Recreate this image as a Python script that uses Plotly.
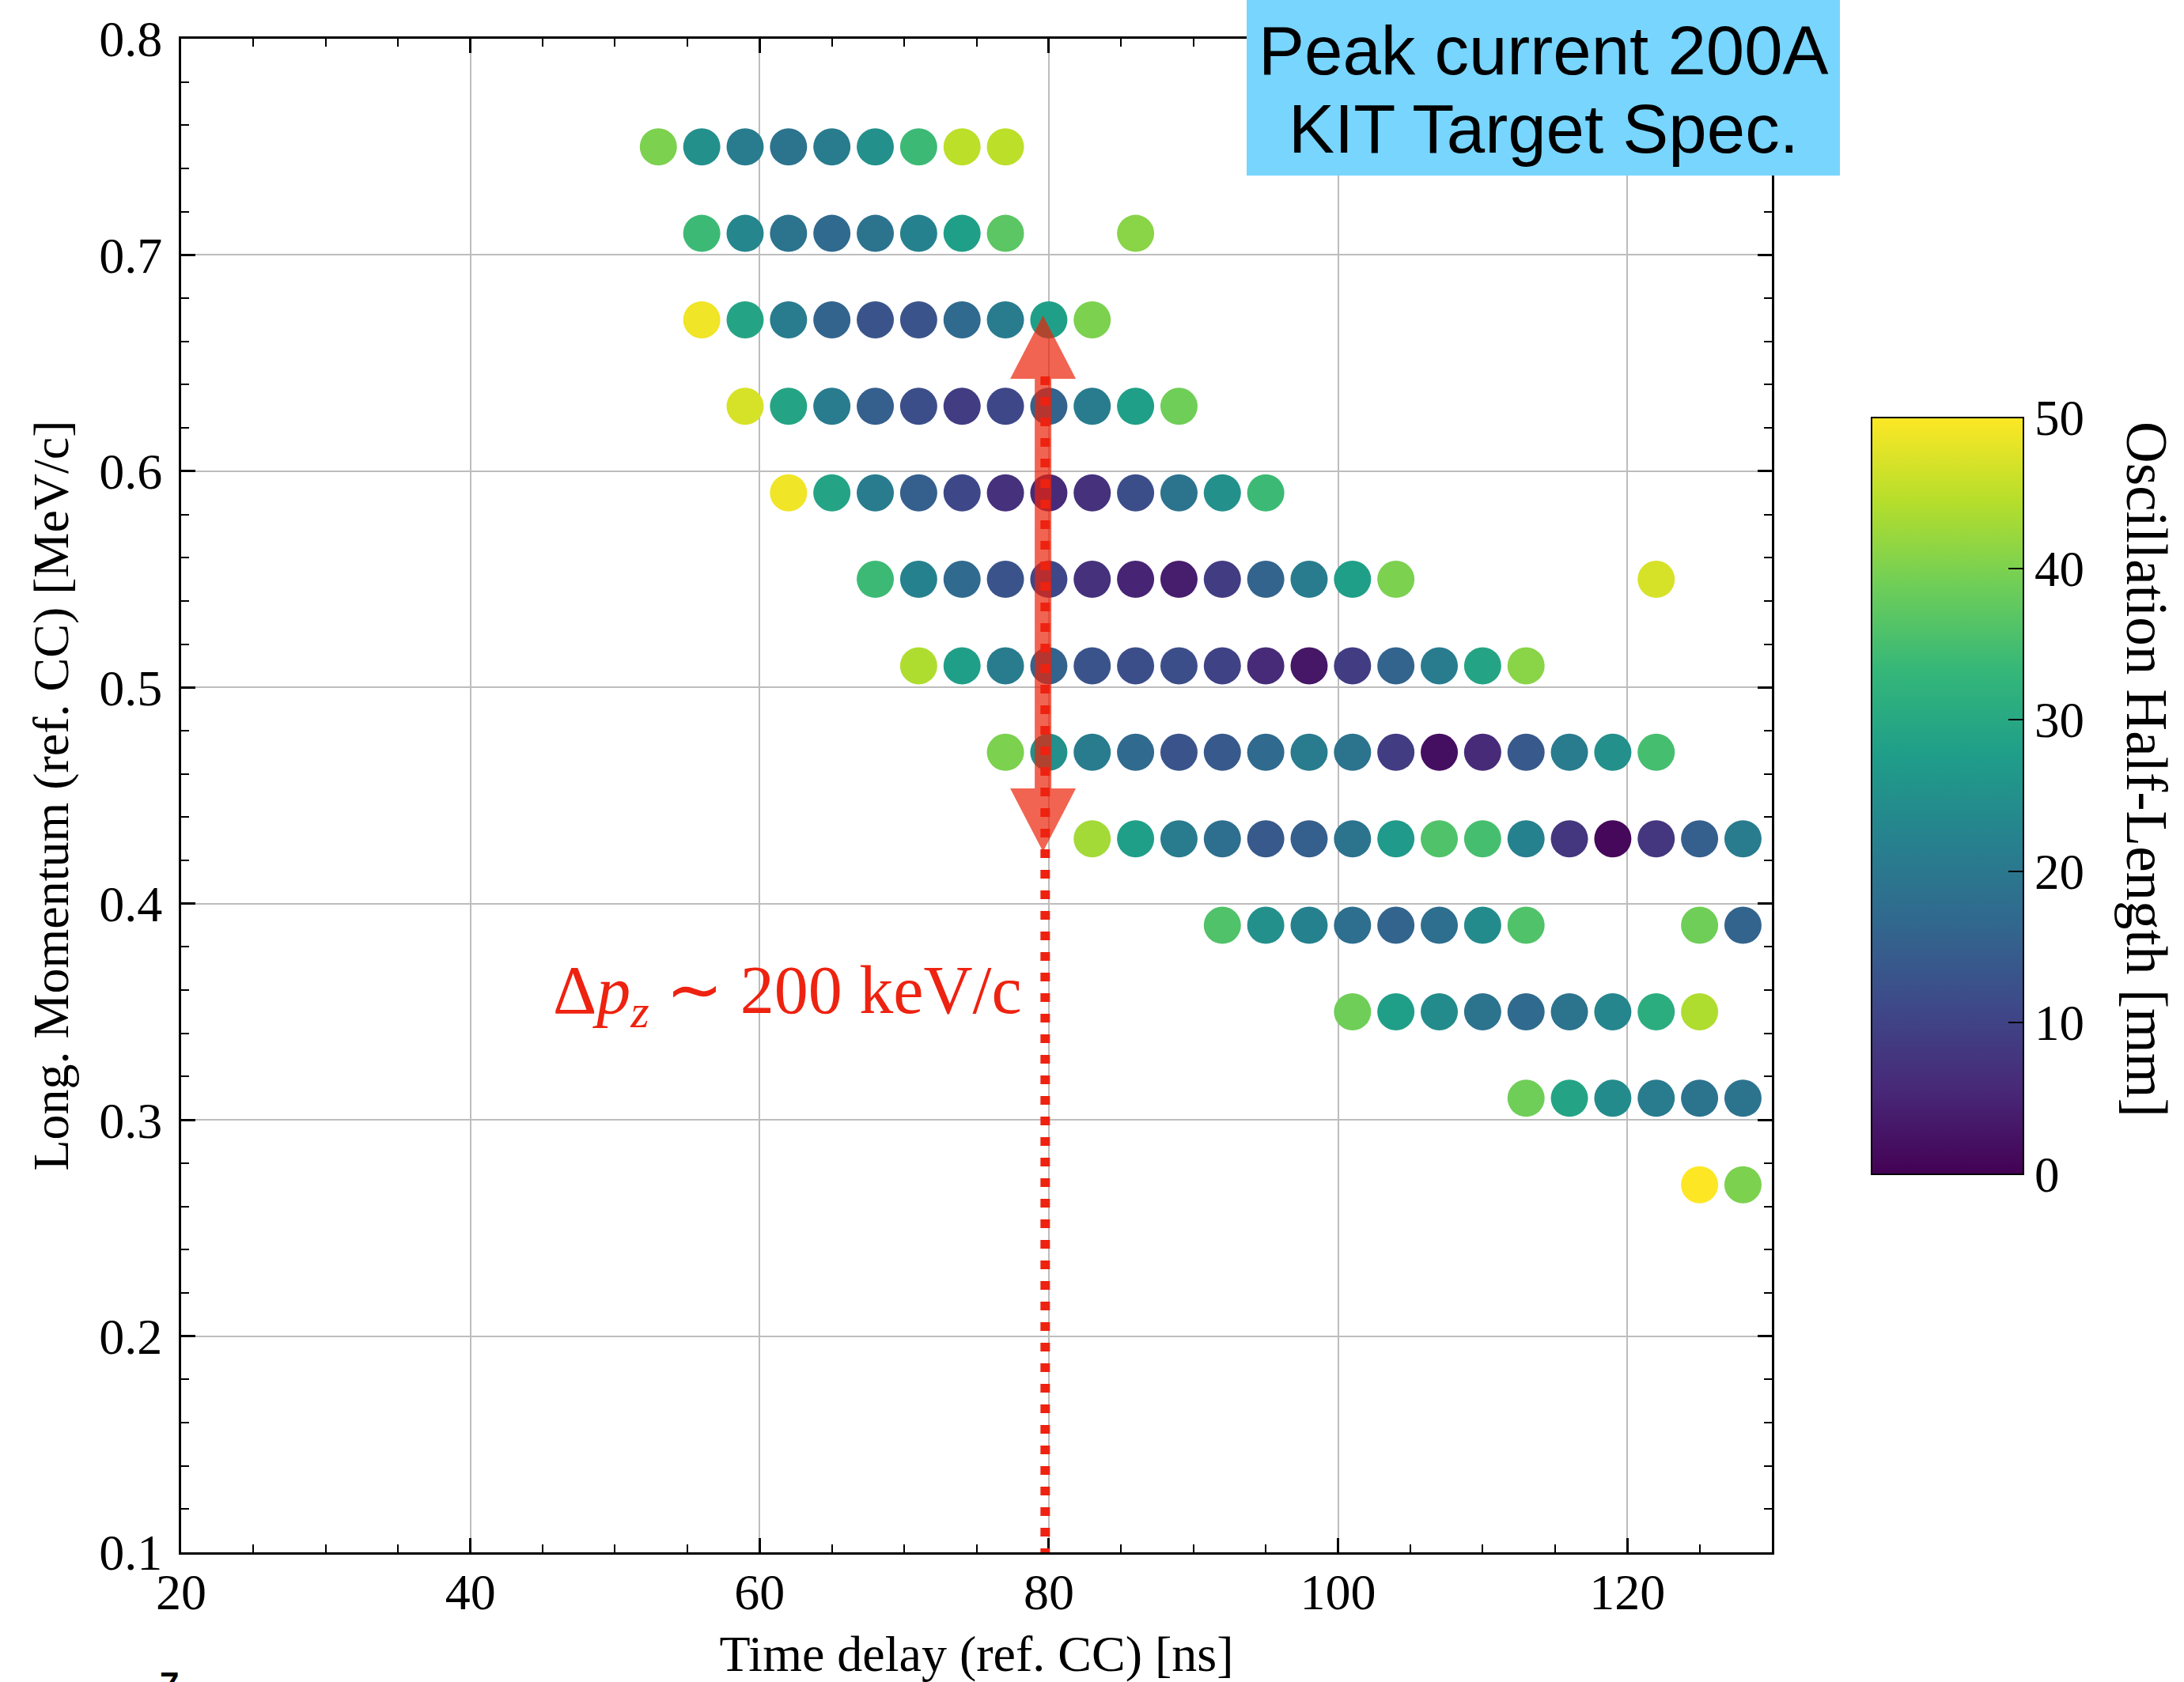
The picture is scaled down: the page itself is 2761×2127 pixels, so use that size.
import plotly.graph_objects as go

# ---------------- data ----------------
momentum_rows = [0.75, 0.71, 0.67, 0.63, 0.59, 0.55, 0.51, 0.47, 0.43, 0.39, 0.35, 0.31, 0.27]

delay_rows = [
    [53, 56, 59, 62, 65, 68, 71, 74, 77],
    [56, 59, 62, 65, 68, 71, 74, 77, 86],
    [56, 59, 62, 65, 68, 71, 74, 77, 80, 83],
    [59, 62, 65, 68, 71, 74, 77, 80, 83, 86, 89],
    [62, 65, 68, 71, 74, 77, 80, 83, 86, 89, 92, 95],
    [68, 71, 74, 77, 80, 83, 86, 89, 92, 95, 98, 101, 104, 122],
    [71, 74, 77, 80, 83, 86, 89, 92, 95, 98, 101, 104, 107, 110, 113],
    [77, 80, 83, 86, 89, 92, 95, 98, 101, 104, 107, 110, 113, 116, 119, 122],
    [83, 86, 89, 92, 95, 98, 101, 104, 107, 110, 113, 116, 119, 122, 125, 128],
    [92, 95, 98, 101, 104, 107, 110, 113, 125, 128],
    [101, 104, 107, 110, 113, 116, 119, 122, 125],
    [113, 116, 119, 122, 125, 128],
    [125, 128],
]

half_length_rows = [
    [40, 25, 21, 19, 21, 25, 34, 45, 45],
    [34, 23, 19, 17, 19, 22, 28, 37, 41],
    [49, 29, 21, 16, 13, 13, 17, 21, 28, 40],
    [47, 29, 21, 15, 12, 9, 11, 16, 21, 28, 39],
    [49, 29, 21, 15, 11, 7, 6, 7, 12, 19, 25, 34],
    [34, 22, 17, 13, 11, 7, 5, 4, 9, 16, 21, 28, 40, 47],
    [44, 28, 21, 16, 13, 12, 12, 10, 6, 3, 9, 16, 21, 29, 41],
    [40, 25, 21, 17, 13, 14, 17, 21, 19, 9, 2, 6, 14, 21, 25, 35],
    [43, 28, 21, 18, 14, 15, 19, 27, 36, 35, 22, 8, 1, 8, 15, 21],
    [36, 25, 22, 18, 16, 18, 24, 36, 39, 16],
    [39, 28, 24, 19, 17, 19, 23, 31, 44],
    [39, 29, 24, 21, 19, 19],
    [50, 40],
]

x_ticks = [20, 40, 60, 80, 100, 120]
y_ticks = [0.1, 0.2, 0.3, 0.4, 0.5, 0.6, 0.7, 0.8]
cbar_ticks = [0, 10, 20, 30, 40, 50]

# annotation geometry (data units)
arrow_x = 79.6
arrow_y_low = 0.424
arrow_y_high = 0.672
dotted_x = 79.75
dotted_y_top = 0.648

# ---------------- flatten ----------------
xs, ys, cs = [], [], []
for yv, xr, vr in zip(momentum_rows, delay_rows, half_length_rows):
    for xv, v in zip(xr, vr):
        xs.append(xv)
        ys.append(yv)
        cs.append(v)

SERIF = "Liberation Serif, Times New Roman, serif"
SANS = "Liberation Sans, Arial, sans-serif"

W, H = 2761, 2127
ML, MR, MT, MB = 229, 521, 49, 164
PW = W - ML - MR
PH = H - MT - MB
XR = [20, 130]
YR = [0.1, 0.8]
pxx = PW / (XR[1] - XR[0])
pxy = PH / (YR[1] - YR[0])

CB_X = (2366 - ML) / PW
CB_THICK = 192
CB_Y0, CB_Y1 = 0.25, 0.75

fig = go.Figure()
fig.add_trace(go.Scatter(
    x=xs, y=ys, mode="markers",
    marker=dict(
        size=47, color=cs, colorscale="Viridis", cmin=0, cmax=50,
        line=dict(width=0),
        colorbar=dict(
            x=CB_X, xanchor="left", xref="paper",
            y=0.5, yanchor="middle", yref="paper",
            len=CB_Y1 - CB_Y0, lenmode="fraction",
            thickness=CB_THICK, thicknessmode="pixels",
            xpad=0, ypad=0,
            outlinewidth=2, outlinecolor="black",
            ticks="inside", ticklen=20, tickwidth=2, tickcolor="black",
            tickmode="array", tickvals=cbar_ticks,
            ticktext=[str(t) for t in cbar_ticks],
            tickfont=dict(family=SERIF, size=63, color="black"),
        ),
    ),
    showlegend=False,
    hoverinfo="x+y",
))

axis_common = dict(
    showline=True, linecolor="black", linewidth=3, mirror="allticks",
    ticks="inside", ticklen=18, tickwidth=3, tickcolor="black",
    showgrid=True, gridcolor="#bdbdbd", gridwidth=2,
    zeroline=False, automargin=False,
    tickfont=dict(family=SERIF, size=64, color="black"),
)

fig.update_layout(
    width=W, height=H, autosize=False,
    margin=dict(l=ML, r=MR, t=MT, b=MB, pad=0, autoexpand=False),
    paper_bgcolor="white", plot_bgcolor="white",
    xaxis=dict(
        range=XR, tickmode="array", tickvals=x_ticks,
        minor=dict(ticks="inside", ticklen=10, tickwidth=2, tickcolor="black",
                   dtick=5, tick0=20, showgrid=False),
        title=dict(text="Time delay (ref. CC) [ns]",
                   font=dict(family=SERIF, size=64, color="black"), standoff=36),
        ticklabelstandoff=-8,
        **axis_common,
    ),
    yaxis=dict(
        range=YR, tickmode="array", tickvals=y_ticks,
        ticktext=[f"{v:.1f}" for v in y_ticks],
        minor=dict(ticks="inside", ticklen=10, tickwidth=2, tickcolor="black",
                   dtick=0.02, tick0=0.1, showgrid=False),
        title=dict(text="Long. Momentum (ref. CC) [MeV/c]",
                   font=dict(family=SERIF, size=64, color="black"), standoff=18),
        ticklabelstandoff=8,
        **axis_common,
    ),
)

shapes = []

# double-headed arrow (semi-transparent red)
hw_head = 41.5 / pxx
hw_shaft = 10.5 / pxx
head_len = 80 / pxy
ax = arrow_x
yl, yh = arrow_y_low, arrow_y_high
pts = [
    (ax - hw_shaft, yl + head_len), (ax - hw_head, yl + head_len), (ax, yl),
    (ax + hw_head, yl + head_len), (ax + hw_shaft, yl + head_len),
    (ax + hw_shaft, yh - head_len), (ax + hw_head, yh - head_len), (ax, yh),
    (ax - hw_head, yh - head_len), (ax - hw_shaft, yh - head_len),
]
path = "M " + " L ".join(f"{px:.4f},{py:.5f}" for px, py in pts) + " Z"
shapes.append(dict(type="path", path=path, xref="x", yref="y",
                   fillcolor="rgb(237,34,9)", opacity=0.7, line=dict(width=0),
                   layer="above"))

# dotted vertical line
shapes.append(dict(type="line", xref="x", yref="y",
                   x0=dotted_x, x1=dotted_x, y0=YR[0] - 6 / pxy, y1=dotted_y_top,
                   line=dict(color="rgb(238,34,16)", width=12, dash="11px,15px"),
                   layer="above"))

# title box
shapes.append(dict(type="rect", xref="paper", yref="paper",
                   x0=(1576 - ML) / PW, x1=(2326 - ML) / PW,
                   y0=(H - MB - 222) / PH, y1=(H - MB - 0) / PH + 0.01,
                   fillcolor="#78d5fe", line=dict(width=0), layer="above"))

# colorbar minor ticks
cb_right = CB_X + CB_THICK / PW
for v in range(0, 51, 2):
    if v % 10 == 0:
        continue
    yy = CB_Y0 + (CB_Y1 - CB_Y0) * v / 50
    shapes.append(dict(type="line", xref="paper", yref="paper",
                       xsizemode="pixel", xanchor=cb_right, x0=-11, x1=0,
                       y0=yy, y1=yy, line=dict(color="black", width=2),
                       layer="above"))

fig.update_layout(shapes=shapes)

annotations = [
    dict(text="Peak current 200A", xref="paper", yref="paper",
         x=(1951 - ML) / PW, y=(H - MB - 63) / PH, xanchor="center", yanchor="middle",
         showarrow=False, font=dict(family=SANS, size=87, color="black")),
    dict(text="KIT Target Spec.", xref="paper", yref="paper",
         x=(1951 - ML) / PW, y=(H - MB - 162) / PH, xanchor="center", yanchor="middle",
         showarrow=False, font=dict(family=SANS, size=87, color="black")),
    dict(text="Δ<i>p</i><sub><i>z</i></sub> ∼ 200 keV/c", xref="x", yref="y",
         x=XR[0] + (1294 - ML) / pxx, y=YR[1] - (1258 - MT) / pxy,
         xanchor="right", yanchor="middle", showarrow=False,
         font=dict(family=SERIF, size=86, color="rgb(238,34,16)")),
    dict(text="Oscillation Half-Length [mm]", xref="paper", yref="paper",
         x=(2713 - ML) / PW, y=(H - MB - 973) / PH, xanchor="center", yanchor="middle",
         textangle=90, showarrow=False,
         font=dict(family=SERIF, size=73, color="black")),
    dict(text="<b>7</b>", xref="paper", yref="paper",
         x=(214 - ML) / PW, y=(H - MB - 2104) / PH, xanchor="center", yanchor="top",
         showarrow=False, font=dict(family=SANS, size=44, color="black")),
]
fig.update_layout(annotations=annotations)

fig.write_html("out.html")
